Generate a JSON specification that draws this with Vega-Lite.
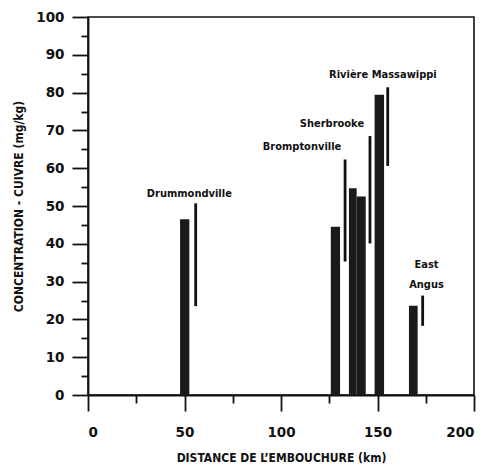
{
  "$schema": "https://vega.github.io/schema/vega-lite/v6.json",
  "width": 386,
  "height": 378,
  "autosize": "none",
  "padding": {"left": 88, "top": 17, "right": 17, "bottom": 74},
  "background": "white",
  "config": {
    "view": {"stroke": "#111", "strokeWidth": 1.6},
    "font": "DejaVu Sans Condensed"
  },
  "datasets": {
    "bars": [
      {"start": 47.7, "end": 52.5, "value": 46.5},
      {"start": 125.8, "end": 130.6, "value": 44.5},
      {"start": 135.2, "end": 139.2, "value": 54.7},
      {"start": 139.2, "end": 143.9, "value": 52.5},
      {"start": 148.5, "end": 153.4, "value": 79.4},
      {"start": 166.3, "end": 170.8, "value": 23.6}
    ],
    "rules": [
      {"km": 55.8, "low": 23.5, "high": 50.7},
      {"km": 133.2, "low": 35.3, "high": 62.3},
      {"km": 146.1, "low": 40.1, "high": 68.5},
      {"km": 155.3, "low": 60.6, "high": 81.4},
      {"km": 173.4, "low": 18.3, "high": 26.3}
    ],
    "labels": [
      {"km": 52.5, "value": 53.2, "text": "Drummondville"},
      {"km": 110.9, "value": 65.6, "text": "Bromptonville"},
      {"km": 126.4, "value": 71.7, "text": "Sherbrooke"},
      {"km": 152.8, "value": 84.7, "text": "Rivière Massawippi"},
      {"km": 175.4, "value": 34.4, "text": "East"},
      {"km": 175.4, "value": 29.1, "text": "Angus"}
    ]
  },
  "resolve": {"axis": {"x": "independent", "y": "independent"}},
  "layer": [
    {
      "data": {"name": "bars"},
      "mark": {"type": "rect", "color": "#1a1a1a"},
      "encoding": {
        "x": {
          "field": "start", "type": "quantitative",
          "scale": {"domain": [0, 200], "nice": false},
          "axis": {
            "orient": "bottom",
            "values": [0, 50, 100, 150, 200],
            "labelOverlap": false,
            "tickSize": 16,
            "tickColor": "#111", "tickWidth": 1.8,
            "domainColor": "#111", "domainWidth": 1.8,
            "labelFont": "DejaVu Sans", "labelFontWeight": "bold", "labelFontSize": 13.5, "labelColor": "#111",
            "labelPadding": 14,
            "title": "DISTANCE DE L’EMBOUCHURE (km)",
            "titleFont": "DejaVu Sans Condensed", "titleFontWeight": "bold", "titleFontSize": 12, "titleColor": "#111",
            "titlePadding": 14,
            "grid": false
          }
        },
        "x2": {"field": "end"},
        "y": {
          "field": "value", "type": "quantitative",
          "scale": {"domain": [0, 100], "nice": false},
          "axis": {
            "orient": "left",
            "values": [0, 10, 20, 30, 40, 50, 60, 70, 80, 90, 100],
            "labelOverlap": false,
            "tickSize": 16,
            "tickColor": "#111", "tickWidth": 1.8,
            "domainColor": "#111", "domainWidth": 1.8,
            "labelFont": "DejaVu Sans", "labelFontWeight": "bold", "labelFontSize": 13.5, "labelColor": "#111",
            "labelPadding": 8,
            "title": "CONCENTRATION - CUIVRE (mg/kg)",
            "titleFont": "DejaVu Sans Condensed", "titleFontWeight": "bold", "titleFontSize": 12, "titleColor": "#111",
            "titlePadding": 10,
            "grid": false
          }
        },
        "y2": {"datum": 0}
      }
    },
    {
      "data": {"name": "rules"},
      "mark": {"type": "rule", "color": "#111", "strokeWidth": 2.8},
      "encoding": {
        "x": {
          "field": "km", "type": "quantitative",
          "axis": {
            "orient": "bottom",
            "values": [25, 75, 125, 175],
            "tickSize": 8, "tickColor": "#111", "tickWidth": 1.8,
            "labels": false, "domain": false, "title": null, "grid": false
          }
        },
        "y": {
          "field": "low", "type": "quantitative",
          "axis": {
            "orient": "left",
            "values": [5, 15, 25, 35, 45, 55, 65, 75, 85, 95],
            "tickSize": 7, "tickColor": "#111", "tickWidth": 1.8,
            "labels": false, "domain": false, "title": null, "grid": false
          }
        },
        "y2": {"field": "high"}
      }
    },
    {
      "data": {"name": "labels"},
      "mark": {"type": "text", "font": "DejaVu Sans Condensed", "fontWeight": "bold", "fontSize": 11, "color": "#111", "baseline": "middle", "align": "center"},
      "encoding": {
        "x": {"field": "km", "type": "quantitative", "axis": null},
        "y": {"field": "value", "type": "quantitative", "axis": null},
        "text": {"field": "text"}
      }
    }
  ]
}
